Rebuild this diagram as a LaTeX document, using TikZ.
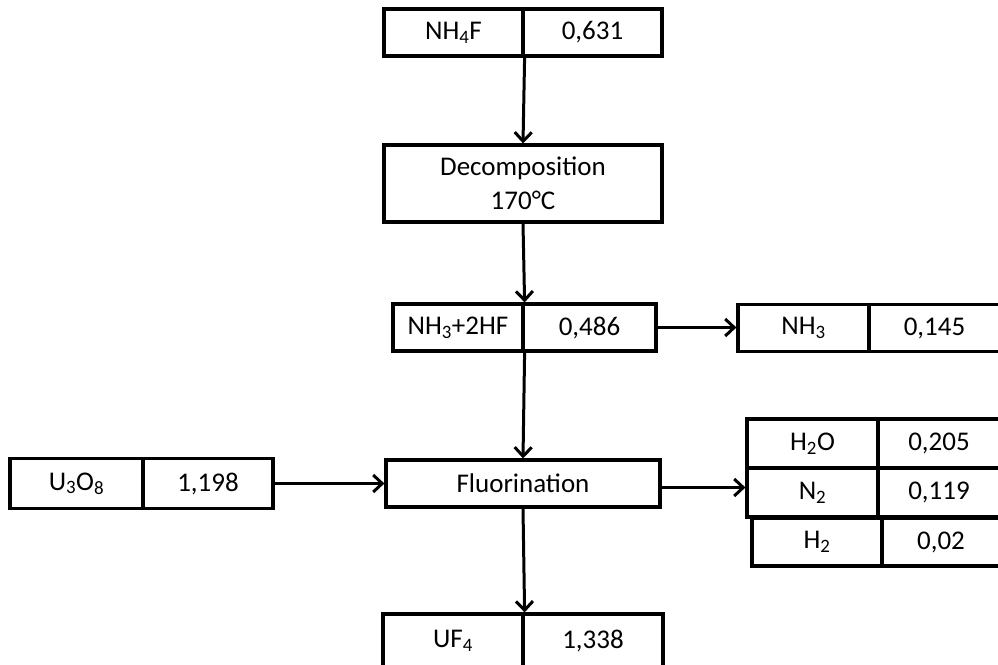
\documentclass[tikz,border=0pt]{standalone}
\usepackage{fontspec}
\setmainfont{Carlito}
\usetikzlibrary{arrows.meta}

\tikzset{
	cell/.style={draw,line width=3.2pt,inner sep=0pt,align=center,minimum height=47pt},
	flow/.style={line width=3pt,-{Straight Barb[length=9pt,width=17pt,line width=3pt]}}
}

\begin{document}
\begin{tikzpicture}
		[x=1pt,y=-1pt,
		every node/.append style={font=\fontsize{27}{34}\selectfont}]

		\useasboundingbox (0,0) rectangle (998,664);

		% Ausgangsstoff
		\node[cell,minimum width=139pt] (nh4f) at (453.5,32.5) {NH\textsubscript{4}F};
		\node[cell,minimum width=139pt] (nh4fval) at (592.5,32.5) {0,631};

		\node[cell,minimum width=278pt,minimum height=77pt] (decomp) at (523,183.5) {Decomposition\\170°C};

		\node[cell,minimum width=130pt] (gas) at (458,327.5) {NH\textsubscript{3}+2HF};
		\node[cell,minimum width=133pt] (gasval) at (589.5,327.5) {0,486};

		\node[cell,minimum width=131pt] (nh3) at (803.5,328) {NH\textsubscript{3}};
		\node[cell,minimum width=131pt] (nh3val) at (934.5,328) {0,145};

		\node[cell,minimum width=274pt] (fluor) at (523,483.5) {Fluorination};

		\node[cell,minimum width=133pt,minimum height=50pt] (u3o8) at (76.5,483.5) {U\textsubscript{3}O\textsubscript{8}};
		\node[cell,minimum width=130pt,minimum height=50pt] (u3o8val) at (208,483.5) {1,198};

		% Abgase
		\node[cell,minimum width=131pt,minimum height=49pt] (h2o) at (812.5,443.5) {H\textsubscript{2}O};
		\node[cell,minimum width=122pt,minimum height=49pt] (h2oval) at (939,443.5) {0,205};
		\node[cell,minimum width=131pt,minimum height=49pt] (n2) at (812.5,492.5) {N\textsubscript{2}};
		\node[cell,minimum width=122pt,minimum height=49pt] (n2val) at (939,492.5) {0,119};
		\node[cell,minimum width=130pt,minimum height=48pt] (h2) at (817,542) {H\textsubscript{2}};
		\node[cell,minimum width=118pt,minimum height=48pt] (h2val) at (941,542) {0,02};

		% Produkt
		\node[cell,minimum width=140pt,minimum height=54pt] (uf4) at (453,641) {UF\textsubscript{4}};
		\node[cell,minimum width=140pt,minimum height=54pt] (uf4val) at (593,641) {1,338};

		\draw[flow] (nh4f.south east) -- (decomp.north);
		\draw[flow] (decomp.south) -- (gas.north east);
		\draw[flow] (gasval.east) -- (gasval.east -| nh3.west);
		\draw[flow] (gas.south east) -- (fluor.north);
		\draw[flow] (u3o8val.east) -- (fluor.west);
		\draw[flow] ([yshift=-4pt]fluor.east) -- ([yshift=-4pt]fluor.east -| n2.west);
		\draw[flow] (fluor.south) -- (uf4.north east);
	\end{tikzpicture}
\end{document}
